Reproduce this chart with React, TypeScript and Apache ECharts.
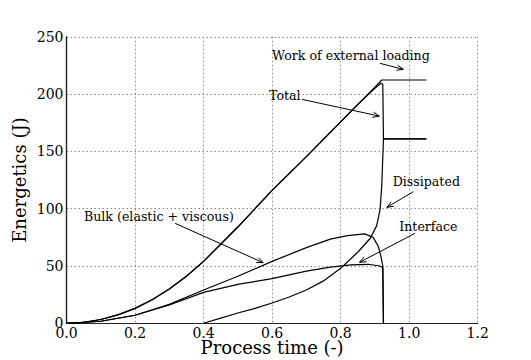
import React, { useEffect, useRef } from "react";
import * as echarts from "echarts";

// ---- data ----
const xTicks = [0, 0.2, 0.4, 0.6, 0.8, 1.0, 1.2];
const yTicks = [0, 50, 100, 150, 200, 250];

const workT = [0, 0.05, 0.1, 0.15, 0.2, 0.25, 0.3, 0.35, 0.4, 0.5, 0.6, 0.7, 0.8, 0.9, 0.92, 1.05];
const workV = [0, 0.8, 3.3, 7.4, 13, 20.5, 30, 41, 54, 84, 116, 145.5, 175.7, 206, 212.3, 212.3];

const totalT = [0, 0.05, 0.1, 0.15, 0.2, 0.25, 0.3, 0.35, 0.4, 0.5, 0.6, 0.7, 0.8, 0.85, 0.9, 0.918, 0.923, 0.925, 1.05];
const totalV = [0, 0.8, 3.3, 7.4, 13, 20.5, 30, 41, 54, 84, 116, 145.5, 175.7, 191, 205, 209.5, 208.5, 161, 161];

const dissT = [0.4, 0.45, 0.5, 0.55, 0.6, 0.65, 0.7, 0.75, 0.8, 0.85, 0.886, 0.905, 0.915, 0.92, 0.923, 0.925, 1.05];
const dissV = [0, 4.5, 9, 13, 17.7, 23, 29, 37, 48, 62, 74, 85, 99, 120, 145, 161, 161];

const bulkT = [0, 0.1, 0.2, 0.3, 0.4, 0.5, 0.6, 0.7, 0.77, 0.82, 0.87, 0.895, 0.91, 0.918, 0.923, 0.925];
const bulkV = [0, 1.8, 7, 16.5, 29, 41, 54, 66, 73.5, 76.5, 78, 75, 67, 58, 50, 0];

const ifaceT = [0, 0.1, 0.2, 0.3, 0.4, 0.5, 0.6, 0.7, 0.77, 0.83, 0.88, 0.915, 0.923, 0.925];
const ifaceV = [0, 1.8, 7, 16, 27, 34, 39, 45.5, 49, 51, 51.5, 50, 48.5, 0];

// annotations: label, text anchor (left, middle) and arrow start/end, in data coordinates
const annLabels = ["Work of external loading", "Total", "Dissipated", "Interface", "Bulk (elastic + viscous)"];
const annText = [[0.6, 234], [0.591, 199], [0.952, 123.7], [0.971, 84.3], [0.051, 93.2]];
const annFrom = [[0.915, 226.8], [0.687, 195.4], [1.012, 114.8], [1.017, 78.5], [0.317, 87.2]];
const annTo = [[0.983, 221.6], [0.913, 180.8], [0.935, 101.2], [0.855, 53.2], [0.574, 52.9]];

const zip = (t: number[], v: number[]) => t.map((x, i) => [x, v[i]]);

const FONT = "DejaVu Serif";

export default function App() {
  const ref = useRef<HTMLDivElement>(null);
  useEffect(() => {
    document.body.style.margin = "0";
    const chart = echarts.init(ref.current!, null, { renderer: "svg" });
    const line = (name: string, t: number[], v: number[]) => ({
      name,
      type: "line",
      data: zip(t, v),
      showSymbol: false,
      symbol: "none",
      xAxisIndex: 0,
      yAxisIndex: 0,
      lineStyle: { color: "#000", width: 1.2 },
      itemStyle: { color: "#000" },
      z: 5,
    });
    const frameLine = { show: true, lineStyle: { color: "#222", width: 1.2 } };
    chart.setOption({
      animation: false,
      backgroundColor: "#fff",
      grid: {
        left: 66.5,
        right: 53.3,
        top: 36.8,
        bottom: 36.7,
        containLabel: false,
        outerBoundsMode: "none",
      },
      xAxis: [
        {
          type: "value",
          min: xTicks[0],
          max: xTicks[xTicks.length - 1],
          interval: 0.2,
          axisLine: frameLine,
          axisTick: { show: false },
          axisLabel: {
            formatter: (v: number) => v.toFixed(1),
            fontFamily: FONT,
            fontSize: 14,
            color: "#000",
            margin: 3,
          },
          splitLine: { show: true, lineStyle: { type: [1.5, 2.5], color: "#888", width: 1 } },
          name: "Process time (-)",
          nameLocation: "middle",
          nameGap: 15,
          nameMoveOverlap: false,
          nameTextStyle: { fontFamily: FONT, fontSize: 18, color: "#000" },
        },
        {
          type: "value",
          position: "top",
          min: xTicks[0],
          max: xTicks[xTicks.length - 1],
          interval: 0.2,
          axisLine: frameLine,
          axisTick: { show: false },
          axisLabel: { show: false },
          splitLine: { show: false },
        },
      ],
      yAxis: [
        {
          type: "value",
          min: yTicks[0],
          max: yTicks[yTicks.length - 1],
          interval: 50,
          axisLine: frameLine,
          axisTick: { show: false },
          axisLabel: { fontFamily: FONT, fontSize: 14, color: "#000", margin: 3 },
          splitLine: { show: true, lineStyle: { type: [1.5, 2.5], color: "#888", width: 1 } },
          name: "Energetics (J)",
          nameLocation: "middle",
          nameGap: 38,
          nameRotate: 90,
          nameMoveOverlap: false,
          nameTextStyle: { fontFamily: FONT, fontSize: 18, color: "#000" },
        },
        {
          type: "value",
          position: "right",
          min: yTicks[0],
          max: yTicks[yTicks.length - 1],
          interval: 50,
          axisLine: frameLine,
          axisTick: { show: false },
          axisLabel: { show: false },
          splitLine: { show: false },
        },
      ],
      series: [
        line("Work of external loading", workT, workV),
        line("Total", totalT, totalV),
        line("Dissipated", dissT, dissV),
        line("Bulk", bulkT, bulkV),
        line("Interface", ifaceT, ifaceV),
      ],
    });

    const px = (p: number[]) => chart.convertToPixel({ gridIndex: 0 }, p) as number[];
    const graphics: any[] = [];
    annLabels.forEach((label, i) => {
      const tp = px(annText[i]);
      graphics.push({
        type: "text",
        x: tp[0],
        y: tp[1],
        z: 10,
        style: {
          text: label,
          fontFamily: FONT,
          fontSize: 12.6,
          fill: "#000",
          textAlign: "left",
          textVerticalAlign: "middle",
        },
      });
      const a = px(annFrom[i]);
      const b = px(annTo[i]);
      const dx = b[0] - a[0];
      const dy = b[1] - a[1];
      const len = Math.hypot(dx, dy);
      const ux = dx / len;
      const uy = dy / len;
      const L = 7;
      const th = (22 * Math.PI) / 180;
      const c = Math.cos(th);
      const s = Math.sin(th);
      const p1 = [b[0] - L * (ux * c - uy * s), b[1] - L * (uy * c + ux * s)];
      const p2 = [b[0] - L * (ux * c + uy * s), b[1] - L * (uy * c - ux * s)];
      graphics.push({
        type: "line",
        z: 10,
        shape: { x1: a[0], y1: a[1], x2: b[0], y2: b[1] },
        style: { stroke: "#000", lineWidth: 1 },
      });
      graphics.push({
        type: "polyline",
        z: 10,
        shape: { points: [p1, b, p2] },
        style: { stroke: "#000", lineWidth: 1, fill: null },
      });
    });
    chart.setOption({ graphic: graphics });

    return () => chart.dispose();
  }, []);
  return <div ref={ref} style={{ width: 531, height: 360 }} />;
}
